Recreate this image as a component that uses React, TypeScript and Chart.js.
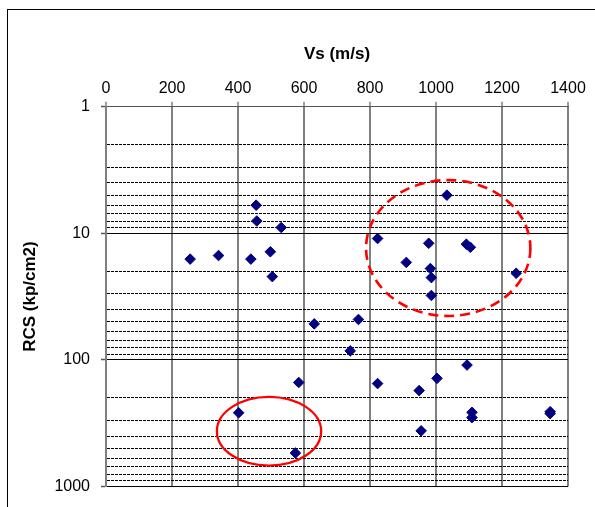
import React, { useEffect, useRef } from "react";
import { Chart, registerables } from "chart.js";

Chart.register(...registerables);

// Vs (m/s) of each sample
const vsValues = [
  455, 457, 531, 255, 341, 439, 498, 504, 1033, 823, 978, 1092, 1104, 910, 983, 986, 1243,
  986, 631, 765, 740, 1094, 1003, 823, 949, 1109, 1109, 1346, 1346, 955, 402, 574, 584,
];
// RCS (kp/cm2) of each sample
const rcsValues = [
  6.0, 8.0, 9.0, 16, 15, 16, 14, 22, 5.0, 11, 12, 12.2, 12.9, 17, 19, 22.4, 20.7,
  31, 52, 48, 85, 110, 140, 154, 175, 260, 286, 257, 266, 364, 262, 545, 151,
];

const xTickValues = [0, 200, 400, 600, 800, 1000, 1200, 1400];
const yTickValues = [
  1, 2, 3, 4, 5, 6, 7, 8, 9,
  10, 20, 30, 40, 50, 60, 70, 80, 90,
  100, 200, 300, 400, 500, 600, 700, 800, 900,
  1000,
];
const yMajorTicks = [1, 10, 100, 1000];

// Annotation ellipses, bounding boxes in data units
const ellipseBoxes = [
  { xMin: 788, xMax: 1286, yMin: 3.8, yMax: 45, dashed: true },
  { xMin: 336, xMax: 652, yMin: 196, yMax: 685, dashed: false },
];

const FONT = "'Liberation Sans', Arial, sans-serif";

const ellipsePlugin = {
  id: "ellipses",
  afterDatasetsDraw(chart: any) {
    const { ctx } = chart;
    const xs = chart.scales.x;
    const ys = chart.scales.y;
    ellipseBoxes.forEach((e) => {
      const x1 = xs.getPixelForValue(e.xMin);
      const x2 = xs.getPixelForValue(e.xMax);
      const y1 = ys.getPixelForValue(e.yMin);
      const y2 = ys.getPixelForValue(e.yMax);
      ctx.save();
      ctx.beginPath();
      ctx.ellipse((x1 + x2) / 2, (y1 + y2) / 2, Math.abs(x2 - x1) / 2, Math.abs(y2 - y1) / 2, 0, 0, Math.PI * 2);
      ctx.strokeStyle = "#ff0000";
      ctx.lineWidth = e.dashed ? 2.6 : 2.3;
      ctx.setLineDash(e.dashed ? [10, 6] : []);
      ctx.stroke();
      ctx.restore();
    });
  },
};

const isMajor = (v: number) => yMajorTicks.includes(v);

export default function App() {
  const canvasRef = useRef<HTMLCanvasElement | null>(null);

  useEffect(() => {
    if (!canvasRef.current) return;
    const points = vsValues.map((x, i) => ({ x, y: rcsValues[i] }));
    const chart = new Chart(canvasRef.current, {
      type: "scatter",
      data: {
        datasets: [
          {
            data: points,
            pointStyle: "rectRot",
            pointRadius: 5.3,
            backgroundColor: "#000080",
            borderColor: "#000080",
            borderWidth: 1,
          },
        ],
      },
      options: {
        animation: false,
        responsive: true,
        maintainAspectRatio: false,
        devicePixelRatio: 1,
        layout: { padding: { left: 0, top: 0, right: 27, bottom: 18 } },
        plugins: { legend: { display: false }, tooltip: { enabled: false } },
        scales: {
          x: {
            type: "linear",
            position: "top",
            min: 0,
            max: 1400,
            afterBuildTicks: (s: any) => {
              s.ticks = xTickValues.map((v) => ({ value: v }));
            },
            afterFit: (s: any) => {
              s.height = 106.7;
            },
            ticks: {
              autoSkip: false,
              maxRotation: 0,
              padding: 4,
              color: "#000",
              font: { family: FONT, size: 16 },
              callback: (v: any) => String(v),
            },
            grid: {
              color: "#808080",
              lineWidth: 2,
              tickLength: 5,
              tickColor: "#808080",
              tickWidth: 1.5,
            },
            border: { display: true, color: "#555", width: 1 },
            title: {
              display: true,
              text: "Vs (m/s)",
              color: "#000",
              font: { family: FONT, size: 17, weight: "bold" },
              padding: { top: 44, bottom: 0 },
            },
          },
          y: {
            type: "logarithmic",
            position: "left",
            reverse: true,
            min: 1,
            max: 1000,
            afterBuildTicks: (s: any) => {
              s.ticks = yTickValues.map((v) => ({ value: v, major: isMajor(v) }));
            },
            afterFit: (s: any) => {
              s.width = 106;
            },
            ticks: {
              autoSkip: false,
              padding: 11,
              color: "#000",
              font: { family: FONT, size: 16 },
              callback: (v: any) => (isMajor(Number(v)) ? String(v) : ""),
            },
            grid: {
              color: (c: any) => (c.tick && isMajor(c.tick.value) ? "#000" : "#000"),
              lineWidth: 1,
              tickLength: 5,
              tickColor: (c: any) => (c.tick && isMajor(c.tick.value) ? "#555" : "rgba(0,0,0,0)"),
              tickWidth: 1.5,
            },
            border: {
              display: true,
              color: "#808080",
              width: 2,
              dash: (c: any) => (c.tick && !isMajor(c.tick.value) ? [3, 1] : []),
            },
            title: {
              display: true,
              text: "RCS (kp/cm2)",
              color: "#000",
              font: { family: FONT, size: 17, weight: "bold" },
              padding: { top: 19.8, bottom: 0 },
            },
          },
        },
      } as any,
      plugins: [ellipsePlugin],
    });
    return () => chart.destroy();
  }, []);

  return (
    <div style={{ position: "fixed", left: 0, top: 0, width: 595, height: 507, overflow: "hidden", background: "#fff" }}>
      <div
        style={{
          position: "absolute",
          left: 7,
          top: 9,
          width: 800,
          height: 800,
          borderTop: "1px solid #000",
          borderLeft: "1px solid #000",
        }}
      />
      <div style={{ position: "absolute", left: 0, top: 0, width: 595, height: 507 }}>
        <canvas ref={canvasRef} />
      </div>
    </div>
  );
}
